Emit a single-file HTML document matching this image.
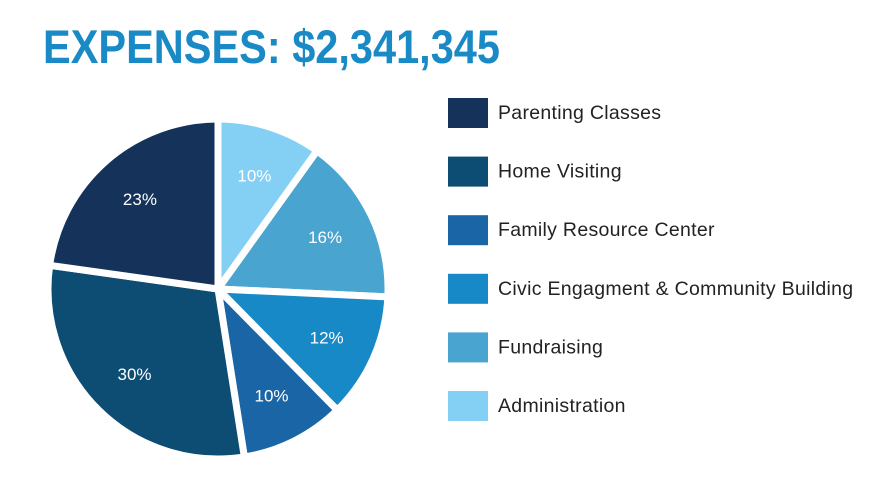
<!DOCTYPE html>
<html><head><meta charset="utf-8"><style>
body{margin:0;background:#fff;}
svg{display:block;font-family:"Liberation Sans",sans-serif;}
</style></head><body>
<svg width="890" height="503" viewBox="0 0 890 503">
<text x="43" y="63" font-size="47" font-weight="bold" fill="#1a8ac6" textLength="457" lengthAdjust="spacingAndGlyphs">EXPENSES: $2,341,345</text>
<g id="pie"></g>
<g id="legend"></g>
</svg>
<script>
const categories=["Administration","Fundraising","Civic Engagment & Community Building","Family Resource Center","Home Visiting","Parenting Classes"];
const values=[10,16,12,10,30,23];
const colors=["#84d0f5","#4aa4d0","#1789c6","#1a65a5","#0d4c73","#14325a"];
const legendOrder=["Parenting Classes","Home Visiting","Family Resource Center","Civic Engagment & Community Building","Fundraising","Administration"];
const NS="http://www.w3.org/2000/svg";
const cx=218,cy=289,R=170;
const total=values.reduce((a,b)=>a+b,0);
function pt(a,r){return [cx+r*Math.sin(a),cy-r*Math.cos(a)];}
const pie=document.getElementById('pie');
let acc=0;
values.forEach((v,i)=>{
  const a0=acc/total*2*Math.PI;acc+=v;const a1=acc/total*2*Math.PI;
  const p0=pt(a0,R),p1=pt(a1,R);
  const path=document.createElementNS(NS,'path');
  path.setAttribute('d',`M${cx},${cy}L${p0[0]},${p0[1]}A${R},${R} 0 ${a1-a0>Math.PI?1:0} 1 ${p1[0]},${p1[1]}Z`);
  path.setAttribute('fill',colors[i]);path.setAttribute('stroke','#fff');path.setAttribute('stroke-width','7');path.setAttribute('stroke-linejoin','round');
  
  
  pie.appendChild(path);
  const m=pt((a0+a1)/2,R*0.7);
  const t=document.createElementNS(NS,'text');
  t.setAttribute('x',m[0]);t.setAttribute('y',m[1]+6);t.setAttribute('text-anchor','middle');
  t.setAttribute('font-size','17');t.setAttribute('fill','#fff');
  t.textContent=v+'%';
  
  
  pie.appendChild(t);
});
const lg=document.getElementById('legend');
legendOrder.forEach((name,k)=>{
  const i=categories.indexOf(name);
  const y=98+k*58.6;
  const r=document.createElementNS(NS,'rect');
  r.setAttribute('x',448);r.setAttribute('y',y);r.setAttribute('width',40);r.setAttribute('height',30);r.setAttribute('fill',colors[i]);
  
  
  lg.appendChild(r);
  const t=document.createElementNS(NS,'text');
  t.setAttribute('x',498);t.setAttribute('y',y+21);t.setAttribute('font-size','19.5');t.setAttribute('fill','#222');
  t.setAttribute('letter-spacing','0.3');
  t.textContent=name;
  
  
  lg.appendChild(t);
});
</script>
</body></html>
